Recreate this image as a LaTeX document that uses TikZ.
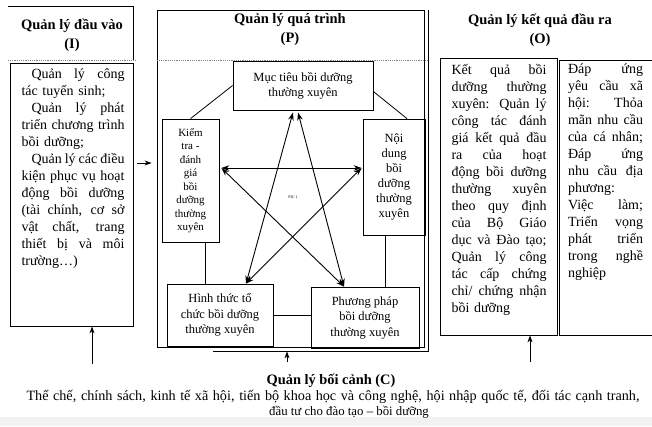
\documentclass[tikz,border=0pt]{standalone}
\usepackage{fontspec}
\setmainfont{Liberation Serif}
\usetikzlibrary{arrows.meta,calc}
% one justified line of a fixed-width text block, and a ragged last line
\newlength\jw
\newcommand\jline[1]{{\spaceskip=0pt\xspaceskip=0pt\makebox[\jw][s]{#1}}\par}
\newcommand\rline[1]{\mbox{#1}\par}
\begin{document}
\begin{tikzpicture}[x=1pt,y=-1pt,
  box/.style={draw, line width=0.8pt, inner sep=0pt, align=center},
  hdr/.style={font=\fontsize{14.5}{19}\selectfont\bfseries, align=center},
  body/.style={inner sep=0pt, anchor=north, align=left, font=\fontsize{14}{17}\selectfont},
  arr/.style={-{Stealth[length=7pt,width=5pt]}, line width=0.8pt},
  dbl/.style={{Stealth[length=8pt,width=5.5pt]}-{Stealth[length=8pt,width=5.5pt]}, line width=0.9pt},
  scan/.style={gray, line width=1.2pt, densely dotted},
  thinline/.style={line width=0.8pt}
]
\useasboundingbox (0,0) rectangle (652,426);
\fill[gray!10] (0,417) rectangle (652,426);

% ---------------- Input (I) ----------------
\node[minimum width=125, minimum height=53, inner sep=0pt] (ihead) at (70.5,33.5) {};
\draw[thinline] (ihead.north west) -- (ihead.north east) -- (ihead.south east);
\draw[scan] (ihead.south west) -- ($(ihead.south east)+(3,0)$);
\node[hdr] (ititle) at (72,35) {Quản lý đầu vào\\(I)};
\node[box, minimum width=123, minimum height=263] (ibody) at (71.5,194.5) {};
\node[body, text width=103pt] (itext) at (73,69) {\setlength\jw{103pt}%
\jline{\hspace*{10pt}Quản lý công}
\rline{tác tuyển sinh;}
\jline{\hspace*{10pt}Quản lý phát}
\jline{triển chương trình}
\rline{bồi dưỡng;}
\jline{\hspace*{10pt}Quản lý các điều}
\jline{kiện phục vụ hoạt}
\jline{động bồi dưỡng}
\jline{(tài chính, cơ sở}
\jline{vật chất, trang}
\jline{thiết bị và môi}
\rline{trường…)}};

% ---------------- Process (P) ----------------
\node[box, minimum width=267, minimum height=337] (pframe) at (290.5,178.5) {};
\draw[line width=0.6pt] ($(pframe.north east)+(4,0)$) -- ($(pframe.south east)+(4,4)$) -- ($(pframe.south)+(-78,4)$);
\draw[scan] ($(pframe.north west)+(0,51)$) -- ($(pframe.north east)+(4,51)$);
\node[hdr] (ptitle) at (290,30) {Quản lý quá trình\\(P)};

\node[box, minimum width=140, minimum height=49, font=\fontsize{12.5}{15}\selectfont] (muc) at (303,85.5) {Mục tiêu bồi dưỡng\\thường xuyên};
\node[box, minimum width=57, minimum height=123, font=\fontsize{11}{13.5}\selectfont] (kiem) at (190.5,180.5) {Kiểm\\tra -\\đánh\\giá\\bồi\\dưỡng\\thường\\xuyên};
\node[box, minimum width=62, minimum height=116, font=\fontsize{12.5}{15}\selectfont] (noi) at (394,177) {Nội\\dung\\bồi\\dưỡng\\thường\\xuyên};
\node[box, minimum width=106, minimum height=62, font=\fontsize{12.5}{15.5}\selectfont] (hinh) at (220,315) {Hình thức tổ\\chức bồi dưỡng\\thường xuyên};
\node[box, minimum width=108, minimum height=61, font=\fontsize{12.5}{15.5}\selectfont] (pp) at (365,317.5) {Phương pháp\\bồi dưỡng\\thường xuyên};
\node[font=\fontsize{4}{4}\selectfont] (pic) at (293,197) {PIC 1};

% plain links around the ring
\draw[thinline] (kiem.north) -- (muc.west);
\draw[thinline] ($(muc.east)+(0,6)$) -- ($(noi.north)+(13,0)$);
\coordinate (kx) at ($(kiem.south)+(14.5,0)$);
\draw[thinline] (kx) -- (kx |- hinh.north);
\coordinate (nx) at ($(noi.south)+(-9,0)$);
\draw[thinline] (nx) -- (nx |- pp.north);
\draw[thinline] (hinh.east) -- (hinh.east -| pp.west);

% star of two-way arrows
\coordinate (sA1) at ($(muc.south)+(-10,2)$);
\coordinate (sA2) at ($(muc.south)+(-5,2)$);
\coordinate (sL) at ($(kiem.east)+(2,-12.5)$);
\coordinate (sR) at ($(noi.west)+(-1,-9)$);
\coordinate (sBL) at ($(hinh.north)+(26,0)$);
\coordinate (sBR) at ($(pp.north)+(-21,0)$);
\draw[dbl] (sA1) -- (sBL);
\draw[dbl] (sA2) -- (sBR);
\draw[dbl] (sL) -- (sR);
\draw[dbl] (sL) -- (sBR);
\draw[dbl] (sR) -- (sBL);

% ---------------- Output (O) ----------------
\node[hdr] (otitle) at (540,30) {Quản lý kết quả đầu ra\\(O)};
\node[box, minimum width=117, minimum height=277] (oleft) at (498.5,196.5) {};
\node[minimum width=100, minimum height=274, inner sep=0pt] (oright) at (610,198) {};
\draw[thinline] (oright.north east) -- (oright.north west) -- (oright.south west) -- (oright.south east);
\node[body, text width=95pt] (oltext) at (499,64) {\setlength\jw{95pt}%
\jline{Kết quả bồi}
\jline{dưỡng thường}
\jline{xuyên: Quản lý}
\jline{công tác đánh}
\jline{giá kết quả đầu}
\jline{ra của hoạt}
\jline{động bồi dưỡng}
\jline{thường xuyên}
\jline{theo quy định}
\jline{của Bộ Giáo}
\jline{dục và Đào tạo;}
\jline{Quản lý công}
\jline{tác cấp chứng}
\jline{chỉ/ chứng nhận}
\rline{bồi dưỡng}};
\node[body, text width=75pt] (ortext) at (605.5,64) {\setlength\jw{75pt}%
\jline{Đáp ứng}
\jline{yêu cầu xã}
\jline{hội: Thỏa}
\jline{mãn nhu cầu}
\jline{của cá nhân;}
\jline{Đáp ứng}
\jline{nhu cầu địa}
\rline{phương:}
\jline{Việc làm;}
\jline{Triển vọng}
\jline{phát triển}
\jline{trong nghề}
\rline{nghiệp}};

% ---------------- links between the blocks ----------------
\coordinate (ip) at (137,163);
\draw[arr] (ip) -- ($(ip -| pframe.west)+(-5,0)$);
\coordinate (ibase) at (92,364);
\draw[arr] (ibase) -- (ibase |- ibody.south);
\coordinate (pbase) at (287,362);
\draw[arr] (pbase) -- ($(pbase |- pframe.south)+(0,4)$);
\coordinate (obase) at (530,362);
\draw[arr] (obase) -- (obase |- oleft.south);

% ---------------- Context (C) ----------------
\node[font=\fontsize{14.4}{16}\selectfont\bfseries] (ctitle) at (331,381) {Quản lý bối cảnh (C)};
\node[font=\fontsize{14.2}{16}\selectfont, inner sep=0pt] (cline1) at (333,397) {\makebox[613pt][s]{Thể chế, chính sách, kinh tế xã hội, tiến bộ khoa học và công nghệ, hội nhập quốc tế, đối tác cạnh tranh,}};
\node[font=\fontsize{12.8}{16}\selectfont] (cline2) at (349,412) {đầu tư cho đào tạo – bồi dưỡng};
\end{tikzpicture}
\end{document}
